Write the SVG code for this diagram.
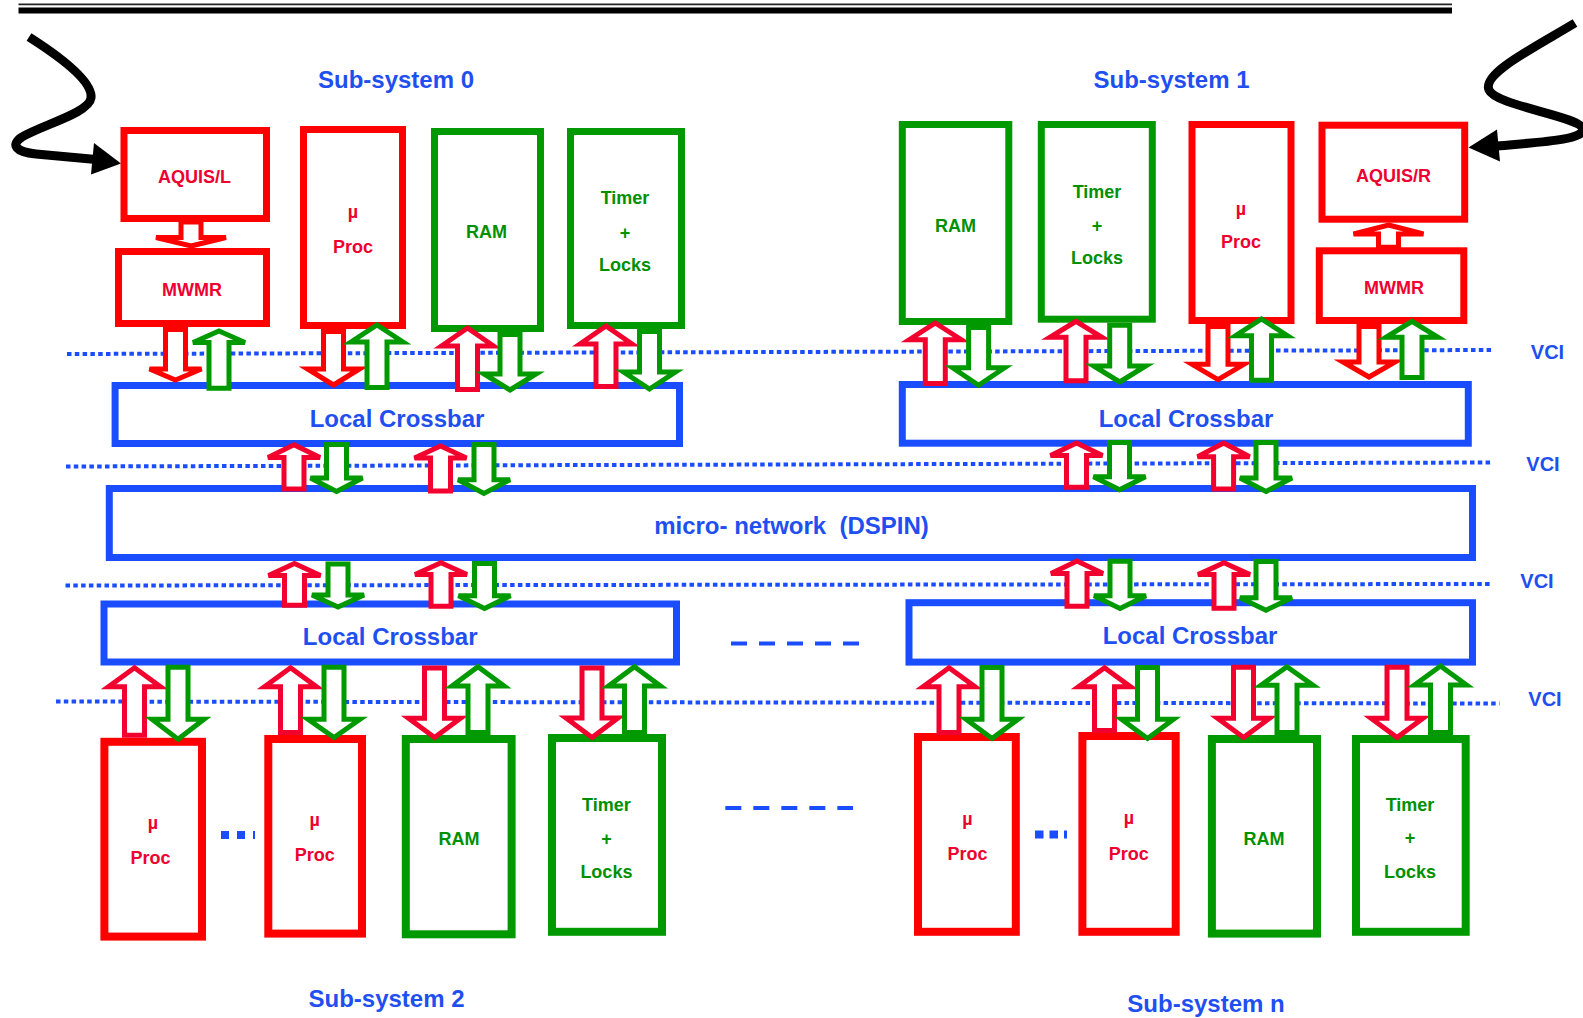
<svg xmlns="http://www.w3.org/2000/svg" width="1583" height="1018" viewBox="0 0 1583 1018">
<style>
.rb{fill:#fff;stroke:#FF0000;stroke-width:7}
.gb{fill:#fff;stroke:#009900;stroke-width:7}
.rb8{fill:#fff;stroke:#FF0000;stroke-width:8}
.gb8{fill:#fff;stroke:#009900;stroke-width:8}
.bb{fill:#fff;stroke:#1A4DFF;stroke-width:7}
.ra{fill:#fff;stroke:#F2002E;stroke-width:5}
.rd{fill:#fff;stroke:#FF0000;stroke-width:5}
.ga{fill:#fff;stroke:#009900;stroke-width:5}
.vci{fill:none;stroke:#1A4DFF;stroke-width:4;stroke-dasharray:4.5 3.3}
.dash{fill:none;stroke:#1A4DFF;stroke-width:4;stroke-dasharray:16 12}
.dots{fill:none;stroke:#1A4DFF;stroke-width:8;stroke-dasharray:8 8}
.sq{fill:none;stroke:#000;stroke-width:9;stroke-linejoin:round}
text{font-family:"Liberation Sans",Arial,sans-serif;font-weight:bold;text-anchor:middle}
.tr{fill:#EE0030;font-size:18px}
.tg{fill:#009000;font-size:18px}
.tb{fill:#1F4FF0;font-size:24px}
.tv{fill:#1F4FF0;font-size:20px}
</style>

<g id="topline">
<line x1="18.5" y1="4.3" x2="1452" y2="4.3" stroke="#222" stroke-width="1.8"/>
<line x1="18.5" y1="10.4" x2="1452" y2="10.4" stroke="#000" stroke-width="6"/>
</g>

<g id="input-left">
<path class="sq" d="M29,37 C62,58 93,82 91,98 C89,113 42,125 22,137 C10,145 16,152 36,154 L96,159.5"/>
<polygon points="121,163.5 94,143 91,174.5" fill="#000"/>
</g>
<g id="input-right">
<path class="sq" d="M1575,23 C1530,50 1482,74 1489,90 C1496,106 1580,116 1583,129 C1584,140 1540,142 1497,146"/>
<polygon points="1468.5,147.5 1497,129.5 1500,161.5" fill="#000"/>
</g>

<g id="vci-lines">
<line class="vci" x1="67" y1="354" x2="1494" y2="350"/>
<line class="vci" x1="66" y1="466.5" x2="1491" y2="462.5"/>
<line class="vci" x1="65.5" y1="585.5" x2="1491" y2="584"/>
<line class="vci" x1="56" y1="701.5" x2="1499.5" y2="703.5"/>
</g>

<g id="labels">
<text class="tb" x="396" y="88">Sub-system 0</text>
<text class="tb" x="1171.5" y="88">Sub-system 1</text>
<text class="tb" x="386.5" y="1006.5">Sub-system 2</text>
<text class="tb" x="1206" y="1011.5">Sub-system n</text>
<text class="tv" x="1547.5" y="359">VCI</text>
<text class="tv" x="1543" y="470.5">VCI</text>
<text class="tv" x="1537" y="587.5">VCI</text>
<text class="tv" x="1545" y="706">VCI</text>
</g>

<g id="ellipsis">
<line class="dash" x1="731" y1="643.4" x2="859" y2="643.4"/>
<line class="dash" x1="725.3" y1="807.9" x2="853" y2="807.9"/>
<line class="dots" x1="221" y1="835" x2="255" y2="835"/>
<line class="dots" x1="1035" y1="834.5" x2="1067" y2="834.5" style="stroke-dasharray:8.5 6"/>
</g>

<!-- Sub-system 0 -->
<g id="aquis-l"><rect class="rb" x="124" y="130.5" width="142.5" height="88"/><text class="tr" x="194.5" y="183">AQUIS/L</text></g>
<g id="mwmr-l"><rect class="rb" x="118.5" y="251.5" width="148" height="72"/><text class="tr" x="192" y="296">MWMR</text></g>
<g id="proc-0"><rect class="rb" x="303.5" y="129.5" width="99" height="196"/><text class="tr" x="353" y="218">µ</text><text class="tr" x="353" y="253">Proc</text></g>
<g id="ram-0"><rect class="gb" x="434.5" y="131.5" width="106" height="197"/><text class="tg" x="486.6" y="238">RAM</text></g>
<g id="timer-0"><rect class="gb" x="570.5" y="131.5" width="111" height="194"/><text class="tg" x="625" y="204">Timer</text><text class="tg" x="625" y="238.5">+</text><text class="tg" x="625" y="270.5">Locks</text></g>

<!-- Sub-system 1 -->
<g id="ram-1"><rect class="gb" x="902.3" y="124.5" width="106.5" height="197"/><text class="tg" x="955.5" y="231.5">RAM</text></g>
<g id="timer-1"><rect class="gb" x="1041.3" y="124.5" width="111" height="194.7"/><text class="tg" x="1097" y="198">Timer</text><text class="tg" x="1097" y="231.5">+</text><text class="tg" x="1097" y="264">Locks</text></g>
<g id="proc-1"><rect class="rb" x="1192" y="124.5" width="99" height="196"/><text class="tr" x="1241" y="214.5">µ</text><text class="tr" x="1241" y="248">Proc</text></g>
<g id="aquis-r"><rect class="rb" x="1322" y="125.2" width="142.7" height="94"/><text class="tr" x="1393.5" y="181.5">AQUIS/R</text></g>
<g id="mwmr-r"><rect class="rb" x="1319.3" y="250.8" width="144.5" height="69.7"/><text class="tr" x="1394" y="294">MWMR</text></g>

<!-- Crossbars and network -->
<g id="crossbar-0"><rect class="bb" x="115.1" y="385.5" width="564.4" height="58"/><text class="tb" x="397" y="427">Local Crossbar</text></g>
<g id="crossbar-1"><rect class="bb" x="902.3" y="384.5" width="566" height="58.7"/><text class="tb" x="1186" y="426.5">Local Crossbar</text></g>
<g id="micro-network"><rect class="bb" x="109.3" y="488.5" width="1363.2" height="69"/><text class="tb" x="791.5" y="533.5" xml:space="preserve">micro- network  (DSPIN)</text></g>
<g id="crossbar-2"><rect class="bb" x="104" y="604" width="572.5" height="58"/><text class="tb" x="390.2" y="644.5">Local Crossbar</text></g>
<g id="crossbar-n"><rect class="bb" x="909" y="602.7" width="563.5" height="59.4"/><text class="tb" x="1190" y="644">Local Crossbar</text></g>

<!-- Sub-system 2 -->
<g id="proc-2a"><rect class="rb8" x="104.4" y="741.8" width="97.6" height="194.8"/><text class="tr" x="153" y="828.5">µ</text><text class="tr" x="150.5" y="864">Proc</text></g>
<g id="proc-2b"><rect class="rb8" x="268.3" y="739" width="93.7" height="194.6"/><text class="tr" x="314.7" y="826">µ</text><text class="tr" x="314.7" y="861">Proc</text></g>
<g id="ram-2"><rect class="gb8" x="405.8" y="739" width="105.8" height="195.3"/><text class="tg" x="459" y="844.5">RAM</text></g>
<g id="timer-2"><rect class="gb8" x="552" y="738" width="110" height="193.8"/><text class="tg" x="606.4" y="811">Timer</text><text class="tg" x="606.4" y="844.8">+</text><text class="tg" x="606.4" y="878">Locks</text></g>

<!-- Sub-system n -->
<g id="proc-na"><rect class="rb8" x="918" y="737" width="97.8" height="194.8"/><text class="tr" x="967.5" y="825">µ</text><text class="tr" x="967.5" y="860">Proc</text></g>
<g id="proc-nb"><rect class="rb8" x="1082.4" y="736" width="93.3" height="195.8"/><text class="tr" x="1129" y="824">µ</text><text class="tr" x="1128.8" y="860">Proc</text></g>
<g id="ram-n"><rect class="gb8" x="1211.9" y="739" width="105.1" height="194.6"/><text class="tg" x="1264" y="844.5">RAM</text></g>
<g id="timer-n"><rect class="gb8" x="1356" y="739" width="109.7" height="192.8"/><text class="tg" x="1410" y="811">Timer</text><text class="tg" x="1410" y="844">+</text><text class="tg" x="1410" y="877.5">Locks</text></g>

<g id="connectors">
<!-- internal -->
<path class="rd" d="M191,246 L226,237.5 L201,237.5 L201,222 L181,222 L181,237.5 L156,237.5 Z"/>
<path class="rd" d="M1388.5,225 L1423.5,234 L1398.5,234 L1398.5,247.3 L1378.5,247.3 L1378.5,234 L1353.5,234 Z"/>
<!-- VCI 1 left -->
<path class="rd" d="M175.5,380 L201.5,369 L185.5,369 L185.5,329.5 L165.5,329.5 L165.5,369 L149.5,369 Z"/>
<path class="ga" d="M219,331 L245,342.5 L229,342.5 L229,388.2 L209,388.2 L209,342.5 L193,342.5 Z"/>
<path class="rd" d="M333.5,385 L359.5,369 L343.5,369 L343.5,331.5 L323.5,331.5 L323.5,369 L307.5,369 Z"/>
<path class="ga" d="M377,325 L403,342 L387,342 L387,387.5 L367,387.5 L367,342 L351,342 Z"/>
<path class="ra" d="M467.5,328 L493.5,346 L477.5,346 L477.5,389.5 L457.5,389.5 L457.5,346 L441.5,346 Z"/>
<path class="ga" d="M510,390 L536,374 L520,374 L520,334.5 L500,334.5 L500,374 L484,374 Z"/>
<path class="ra" d="M606,326 L632,344 L616,344 L616,386.5 L596,386.5 L596,344 L580,344 Z"/>
<path class="ga" d="M649.5,389 L675.5,372 L659.5,372 L659.5,331.5 L639.5,331.5 L639.5,372 L623.5,372 Z"/>
<!-- VCI 1 right -->
<path class="ra" d="M935.3,323 L961.3,339.7 L945.3,339.7 L945.3,383.5 L925.3,383.5 L925.3,339.7 L909.3,339.7 Z"/>
<path class="ga" d="M978.6,385.3 L1004.6,367.7 L988.6,367.7 L988.6,327.5 L968.6,327.5 L968.6,367.7 L952.6,367.7 Z"/>
<path class="ra" d="M1076,321.3 L1102,337.3 L1086,337.3 L1086,380.8 L1066,380.8 L1066,337.3 L1050,337.3 Z"/>
<path class="ga" d="M1119.7,382 L1145.7,366 L1129.7,366 L1129.7,325.2 L1109.7,325.2 L1109.7,366 L1093.7,366 Z"/>
<path class="rd" d="M1218,379.7 L1244,364.3 L1228,364.3 L1228,326.5 L1208,326.5 L1208,364.3 L1192,364.3 Z"/>
<path class="ga" d="M1261.5,319 L1287.5,335.7 L1271.5,335.7 L1271.5,380.2 L1251.5,380.2 L1251.5,335.7 L1235.5,335.7 Z"/>
<path class="rd" d="M1369,377 L1395,362 L1379,362 L1379,326.5 L1359,326.5 L1359,362 L1343,362 Z"/>
<path class="ga" d="M1412,321.3 L1438,337.3 L1422,337.3 L1422,377.5 L1402,377.5 L1402,337.3 L1386,337.3 Z"/>
<!-- VCI 2 -->
<path class="ra" d="M294,444.8 L320,457.5 L304,457.5 L304,489.1 L284,489.1 L284,457.5 L268,457.5 Z"/>
<path class="ga" d="M336.5,491.5 L362.5,478 L346.5,478 L346.5,444.5 L326.5,444.5 L326.5,478 L310.5,478 Z"/>
<path class="ra" d="M440.5,446 L466.5,458 L450.5,458 L450.5,490.9 L430.5,490.9 L430.5,458 L414.5,458 Z"/>
<path class="ga" d="M484,493.4 L510,479.7 L494,479.7 L494,444.5 L474,444.5 L474,479.7 L458,479.7 Z"/>
<path class="ra" d="M1076.5,443 L1102.5,455.6 L1086.5,455.6 L1086.5,487.3 L1066.5,487.3 L1066.5,455.6 L1050.5,455.6 Z"/>
<path class="ga" d="M1119.5,489.7 L1145.5,476.8 L1129.5,476.8 L1129.5,442.5 L1109.5,442.5 L1109.5,476.8 L1093.5,476.8 Z"/>
<path class="ra" d="M1223.6,443 L1249.6,456.7 L1233.6,456.7 L1233.6,489.1 L1213.6,489.1 L1213.6,456.7 L1197.6,456.7 Z"/>
<path class="ga" d="M1266,491.5 L1292,478 L1276,478 L1276,442.5 L1256,442.5 L1256,478 L1240,478 Z"/>
<!-- VCI 3 -->
<path class="ra" d="M294.5,563.5 L320.5,575.5 L304.5,575.5 L304.5,605.2 L284.5,605.2 L284.5,575.5 L268.5,575.5 Z"/>
<path class="ga" d="M338,607 L364,595 L348,595 L348,564 L328,564 L328,595 L312,595 Z"/>
<path class="ra" d="M441,562.8 L467,574.5 L451,574.5 L451,606.3 L431,606.3 L431,574.5 L415,574.5 Z"/>
<path class="ga" d="M484.5,608.4 L510.5,595.8 L494.5,595.8 L494.5,563.5 L474.5,563.5 L474.5,595.8 L458.5,595.8 Z"/>
<path class="ra" d="M1077,561 L1103,573.5 L1087,573.5 L1087,606.3 L1067,606.3 L1067,573.5 L1051,573.5 Z"/>
<path class="ga" d="M1120,608.4 L1146,595.8 L1130,595.8 L1130,561.2 L1110,561.2 L1110,595.8 L1094,595.8 Z"/>
<path class="ra" d="M1224,562.8 L1250,574.6 L1234,574.6 L1234,608.2 L1214,608.2 L1214,574.6 L1198,574.6 Z"/>
<path class="ga" d="M1266,610.2 L1292,597.7 L1276,597.7 L1276,561.5 L1256,561.5 L1256,597.7 L1240,597.7 Z"/>
<!-- VCI 4 left -->
<path class="ra" d="M134.5,667.8 L160.5,686.7 L144.5,686.7 L144.5,735.3 L124.5,735.3 L124.5,686.7 L108.5,686.7 Z"/>
<path class="ga" d="M178,739.2 L204,719.3 L188,719.3 L188,667.3 L168,667.3 L168,719.3 L152,719.3 Z"/>
<path class="ra" d="M290.5,667.8 L316.5,686.7 L300.5,686.7 L300.5,732.5 L280.5,732.5 L280.5,686.7 L264.5,686.7 Z"/>
<path class="ga" d="M334,737.5 L360,719.3 L344,719.3 L344,667.3 L324,667.3 L324,719.3 L308,719.3 Z"/>
<path class="ra" d="M434.5,737.4 L460.5,718.2 L444.5,718.2 L444.5,668.1 L424.5,668.1 L424.5,718.2 L408.5,718.2 Z"/>
<path class="ga" d="M478,666.7 L504,686 L488,686 L488,732.5 L468,732.5 L468,686 L452,686 Z"/>
<path class="ra" d="M592,737.4 L618,718 L602,718 L602,668.1 L582,668.1 L582,718 L566,718 Z"/>
<path class="ga" d="M634.5,666.7 L660.5,686 L644.5,686 L644.5,732.5 L624.5,732.5 L624.5,686 L608.5,686 Z"/>
<!-- VCI 4 right -->
<path class="ra" d="M949,667.8 L975,686.7 L959,686.7 L959,732.5 L939,732.5 L939,686.7 L923,686.7 Z"/>
<path class="ga" d="M992,738.5 L1018,719.3 L1002,719.3 L1002,667.5 L982,667.5 L982,719.3 L966,719.3 Z"/>
<path class="ra" d="M1104.5,667.8 L1130.5,686.7 L1114.5,686.7 L1114.5,730.5 L1094.5,730.5 L1094.5,686.7 L1078.5,686.7 Z"/>
<path class="ga" d="M1147.5,738.5 L1173.5,719.3 L1157.5,719.3 L1157.5,667.5 L1137.5,667.5 L1137.5,719.3 L1121.5,719.3 Z"/>
<path class="ra" d="M1243.5,737.4 L1269.5,718.2 L1253.5,718.2 L1253.5,667.3 L1233.5,667.3 L1233.5,718.2 L1217.5,718.2 Z"/>
<path class="ga" d="M1287,666.7 L1313,685.2 L1297,685.2 L1297,732.5 L1277,732.5 L1277,685.2 L1261,685.2 Z"/>
<path class="ra" d="M1397,737.4 L1423,718.2 L1407,718.2 L1407,667.3 L1387,667.3 L1387,718.2 L1371,718.2 Z"/>
<path class="ga" d="M1440.5,666 L1466.5,685 L1450.5,685 L1450.5,732.5 L1430.5,732.5 L1430.5,685 L1414.5,685 Z"/>
</g>
</svg>
